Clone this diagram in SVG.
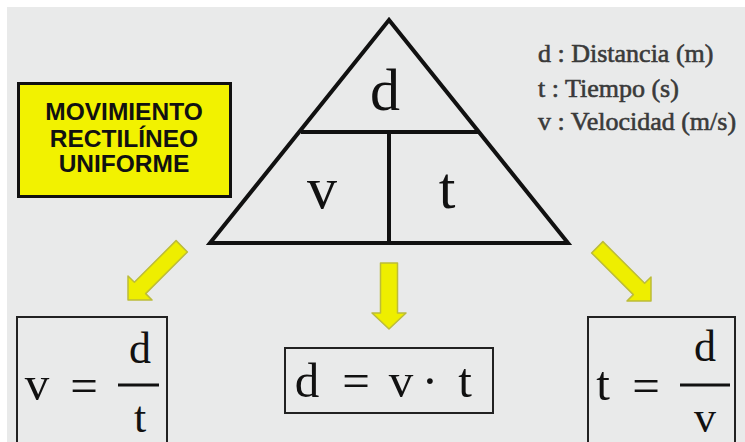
<svg xmlns="http://www.w3.org/2000/svg" width="745" height="442" viewBox="0 0 745 442">
<style>
.serif{font-family:"Liberation Serif","DejaVu Serif",serif;fill:#111;}
.big{font-size:60px;text-anchor:middle;}
.eq{font-size:49px;text-anchor:middle;}
.fr{font-size:44px;text-anchor:middle;}
.leg{font-family:"Liberation Serif","DejaVu Serif",serif;font-size:26px;fill:#3a3a3a;stroke:#3a3a3a;stroke-width:0.6;}
.title{font-family:"Liberation Sans",Arial,sans-serif;font-weight:bold;font-size:24.5px;fill:#111;text-anchor:middle;}
.tri{fill:none;stroke:#111;stroke-width:4;stroke-linejoin:miter;}
.box{fill:none;stroke:#222;stroke-width:2;}
.arrow{fill:#eeee00;stroke:#bcbc3a;stroke-width:1.5;stroke-linejoin:round;}
.bar{stroke:#111;stroke-width:3;}
</style>
<defs>
<path id="diag" d="M -8,-76 L 8,-76 L 8,-17 L 17,-17 L 0,0 L -17,-17 L -8,-17 Z"/>
</defs>
<rect x="0" y="0" width="745" height="442" fill="#ffffff"/>
<rect x="7" y="7" width="738" height="435" fill="#e9eaea"/>

<g id="title">
<rect x="18.5" y="83.5" width="212" height="113" fill="#f2f200" stroke="#111" stroke-width="3"/>
<text class="title" x="124" y="120">MOVIMIENTO</text>
<text class="title" x="124" y="147">RECTILÍNEO</text>
<text class="title" x="124" y="172">UNIFORME</text>
</g>

<g id="triangle">
<polygon class="tri" points="389,20 210,243 568,243"/>
<line x1="301" y1="132" x2="478" y2="132" stroke="#111" stroke-width="4"/>
<line x1="389" y1="132" x2="389" y2="243" stroke="#111" stroke-width="4"/>
<text class="serif big" x="385" y="110">d</text>
<text class="serif big" x="322" y="208">v</text>
<text class="serif big" x="447" y="208">t</text>
</g>

<g id="legend">
<text class="leg" x="538" y="62">d : Distancia (m)</text>
<text class="leg" x="538" y="97">t : Tiempo (s)</text>
<text class="leg" x="538" y="130">v : Velocidad (m/s)</text>
</g>

<g id="connectors">
<use href="#diag" class="arrow" transform="translate(128,300) rotate(45)"/>
<path class="arrow" d="M 380.5,263 L 397.5,263 L 397.5,313 L 406,313 L 389,329 L 372,313 L 380.5,313 Z"/>
<use href="#diag" class="arrow" transform="translate(651,301) rotate(-45)"/>
</g>

<g id="formula-v">
<rect class="box" x="17" y="317" width="150" height="128"/>
<text class="serif eq" x="37" y="400">v</text>
<text class="serif eq" x="84" y="402">=</text>
<line class="bar" x1="118" y1="385" x2="159" y2="385"/>
<text class="serif fr" x="140" y="363">d</text>
<text class="serif fr" x="140" y="432">t</text>
</g>

<g id="formula-d">
<rect class="box" x="285" y="348" width="208" height="65"/>
<text class="serif eq" y="397"><tspan x="307">d</tspan><tspan x="356">=</tspan><tspan x="401">v</tspan><tspan x="430">·</tspan><tspan x="465">t</tspan></text>
</g>

<g id="formula-t">
<rect class="box" x="588" y="317" width="147" height="128"/>
<text class="serif eq" x="603" y="400">t</text>
<text class="serif eq" x="646" y="402">=</text>
<line class="bar" x1="680" y1="385" x2="730" y2="385"/>
<text class="serif fr" x="705" y="361">d</text>
<text class="serif fr" x="705" y="432">v</text>
</g>
</svg>
